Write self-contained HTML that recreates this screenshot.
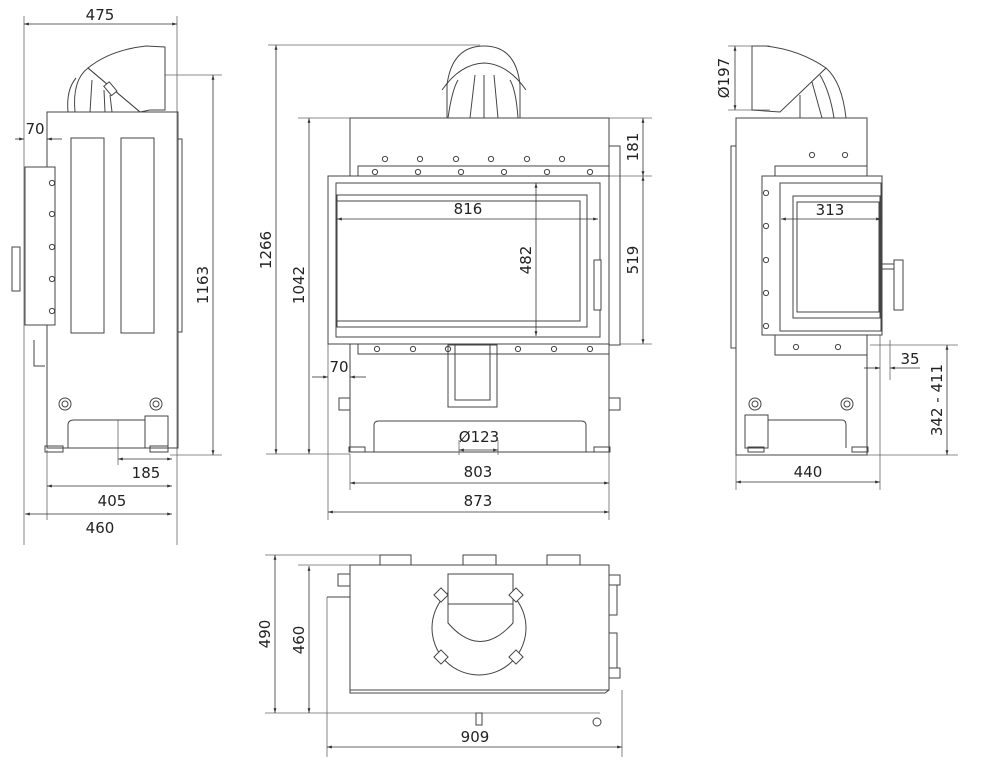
<!DOCTYPE html>
<html><head><meta charset="utf-8"><style>
html,body{margin:0;padding:0;background:#fff;}
svg{display:block;}
text{font-family:"DejaVu Sans","Liberation Sans",sans-serif;font-size:15px;fill:#222;}
.l{stroke:#444;stroke-width:1;fill:none;}
.t{stroke:#666;stroke-width:.8;fill:none;}
.d{stroke:#333;stroke-width:.8;fill:none;}
.b{stroke:#444;stroke-width:1;fill:#fff;}
</style></head><body>
<svg width="984" height="763" viewBox="0 0 984 763" xmlns="http://www.w3.org/2000/svg">
<defs>
<marker id="a" viewBox="0 0 10 10" refX="10" refY="5" markerWidth="9" markerHeight="6" orient="auto-start-reverse"><path d="M0,2 L10,5 L0,8 z" fill="#333"/></marker>
<g id="bolt"><circle r="2.6" class="l"/></g>
</defs>

<!-- ================= LEFT VIEW ================= -->
<g>
<line class="t" x1="24" y1="16" x2="24" y2="545"/>
<line class="t" x1="177" y1="16" x2="177" y2="545"/>
<line class="t" x1="165" y1="75" x2="222" y2="75"/>
<line class="t" x1="170" y1="455" x2="222" y2="455"/>
<line class="t" x1="47" y1="450" x2="47" y2="520"/>
<line class="t" x1="118" y1="420" x2="118" y2="465"/>
<path class="l" d="M88,68 Q110,50 146,46 L165,47 L165,110 L150,110 L140,112 Z"/>
<line class="l" x1="88" y1="68" x2="140" y2="112"/>
<path class="l" d="M75,112 Q72,80 88,68 M68,112 Q66,90 76,78 M90,112 L92,80 M105,112 L104,90 M112,112 L110,95"/>
<rect class="b" x="107" y="83" width="7" height="12" transform="rotate(-40 110 89)"/>
<rect class="l" x="47" y="112" width="131" height="336"/>
<rect class="l" x="178" y="139" width="4" height="193"/>
<rect class="l" x="71" y="138" width="33" height="195"/>
<rect class="l" x="121" y="138" width="33" height="195"/>
<rect class="b" x="25" y="167" width="30" height="158"/>
<g transform="translate(52,0)"><use href="#bolt" y="183"/><use href="#bolt" y="214"/><use href="#bolt" y="247"/><use href="#bolt" y="279"/><use href="#bolt" y="311"/></g>
<rect class="b" x="12" y="247" width="8" height="44"/>
<path class="l" d="M34,340 L34,366 L45,366"/>
<circle cx="65" cy="404" r="6" class="l"/><circle cx="65" cy="404" r="3" class="l"/>
<circle cx="156" cy="404" r="6" class="l"/><circle cx="156" cy="404" r="3" class="l"/>
<path class="l" d="M68,448 L68,425 Q68,420 74,420 L145,420"/>
<rect class="l" x="145" y="416" width="23" height="32"/>
<rect class="l" x="45" y="446" width="18" height="6"/>
<rect class="l" x="150" y="446" width="18" height="6"/>
<line class="d" x1="24" y1="24" x2="177" y2="24" marker-start="url(#a)" marker-end="url(#a)"/>
<text x="100" y="20" text-anchor="middle">475</text>
<line class="d" x1="213" y1="75" x2="213" y2="455" marker-start="url(#a)" marker-end="url(#a)"/>
<text transform="translate(208,285) rotate(-90)" text-anchor="middle">1163</text>
<line class="d" x1="15" y1="139" x2="24" y2="139" marker-end="url(#a)"/>
<line class="d" x1="47" y1="139" x2="62" y2="139" marker-start="url(#a)"/>
<text x="35" y="134" text-anchor="middle">70</text>
<line class="d" x1="118" y1="459" x2="172" y2="459" marker-start="url(#a)" marker-end="url(#a)"/>
<text x="146" y="478" text-anchor="middle">185</text>
<line class="d" x1="47" y1="486" x2="172" y2="486" marker-start="url(#a)" marker-end="url(#a)"/>
<text x="112" y="506" text-anchor="middle">405</text>
<line class="d" x1="25" y1="514" x2="172" y2="514" marker-start="url(#a)" marker-end="url(#a)"/>
<text x="100" y="533" text-anchor="middle">460</text>
</g>

<!-- ================= FRONT VIEW ================= -->
<g>
<line class="t" x1="268" y1="45" x2="480" y2="45"/>
<line class="t" x1="298" y1="118" x2="350" y2="118"/>
<line class="t" x1="266" y1="454" x2="350" y2="454"/>
<line class="t" x1="609" y1="118" x2="652" y2="118"/>
<line class="t" x1="609" y1="176" x2="652" y2="176"/>
<line class="t" x1="620" y1="344" x2="652" y2="344"/>
<line class="t" x1="328" y1="344" x2="328" y2="520"/>
<line class="t" x1="609" y1="344" x2="609" y2="520"/>
<line class="t" x1="350" y1="454" x2="350" y2="490"/>
<path class="l" d="M447,118 L447,85 Q452,46 484,46 Q516,46 520,85 L520,118"/>
<path class="l" d="M442,90 Q460,64 484,63 Q508,64 526,90"/>
<path class="l" d="M448,118 Q452,90 458,80 M470,118 L475,75 M484,118 L484,75 M498,118 L494,75 M518,118 Q516,90 510,80"/>
<rect class="l" x="350" y="118" width="259" height="334"/>
<rect class="l" x="609" y="146" width="11" height="199"/>
<g><use href="#bolt" x="385" y="159"/><use href="#bolt" x="420" y="159"/><use href="#bolt" x="456" y="159"/><use href="#bolt" x="491" y="159"/><use href="#bolt" x="527" y="159"/><use href="#bolt" x="562" y="159"/></g>
<rect class="l" x="358" y="166" width="251" height="10"/>
<g><use href="#bolt" x="375" y="172"/><use href="#bolt" x="418" y="172"/><use href="#bolt" x="461" y="172"/><use href="#bolt" x="504" y="172"/><use href="#bolt" x="547" y="172"/><use href="#bolt" x="590" y="172"/></g>
<rect class="b" x="328" y="176" width="281" height="168"/>
<rect class="l" x="336" y="183" width="264" height="154"/>
<rect class="l" x="337" y="195" width="250" height="132"/>
<rect class="l" x="337" y="201" width="243" height="120"/>
<rect class="b" x="594" y="260" width="7" height="50"/>
<rect class="l" x="358" y="344" width="251" height="10"/>
<g><use href="#bolt" x="377" y="349"/><use href="#bolt" x="413" y="349"/><use href="#bolt" x="448" y="349"/><use href="#bolt" x="518" y="349"/><use href="#bolt" x="554" y="349"/><use href="#bolt" x="590" y="349"/></g>
<rect class="l" x="448" y="345" width="49" height="62"/>
<rect class="l" x="455" y="345" width="35" height="55"/>
<rect class="l" x="339" y="398" width="11" height="12"/>
<rect class="l" x="609" y="398" width="11" height="12"/>
<path class="l" d="M374,452 L374,425 Q374,421 379,421 L581,421 Q586,421 586,425 L586,452"/>
<rect class="l" x="349" y="447" width="16" height="5"/>
<rect class="l" x="594" y="447" width="16" height="5"/>
<line class="d" x1="276" y1="45" x2="276" y2="454" marker-start="url(#a)" marker-end="url(#a)"/>
<text transform="translate(271,250) rotate(-90)" text-anchor="middle">1266</text>
<line class="d" x1="309" y1="118" x2="309" y2="454" marker-start="url(#a)" marker-end="url(#a)"/>
<text transform="translate(304,285) rotate(-90)" text-anchor="middle">1042</text>
<line class="d" x1="643" y1="118" x2="643" y2="176" marker-start="url(#a)" marker-end="url(#a)"/>
<text transform="translate(638,147) rotate(-90)" text-anchor="middle">181</text>
<line class="d" x1="643" y1="176" x2="643" y2="344" marker-start="url(#a)" marker-end="url(#a)"/>
<text transform="translate(638,260) rotate(-90)" text-anchor="middle">519</text>
<line class="d" x1="337" y1="219" x2="598" y2="219" marker-start="url(#a)" marker-end="url(#a)"/>
<text x="468" y="214" text-anchor="middle">816</text>
<line class="d" x1="536" y1="183" x2="536" y2="336" marker-start="url(#a)" marker-end="url(#a)"/>
<text transform="translate(531,260) rotate(-90)" text-anchor="middle">482</text>
<line class="d" x1="312" y1="377" x2="328" y2="377" marker-end="url(#a)"/>
<line class="d" x1="350" y1="377" x2="366" y2="377" marker-start="url(#a)"/>
<text x="339" y="372" text-anchor="middle">70</text>
<line class="t" x1="459" y1="440" x2="459" y2="455"/><line class="t" x1="498" y1="440" x2="498" y2="455"/>
<line class="d" x1="459" y1="450" x2="498" y2="450" marker-start="url(#a)" marker-end="url(#a)"/>
<text x="479" y="442" text-anchor="middle">Ø123</text>
<line class="d" x1="350" y1="483" x2="609" y2="483" marker-start="url(#a)" marker-end="url(#a)"/>
<text x="478" y="477" text-anchor="middle">803</text>
<line class="d" x1="328" y1="512" x2="609" y2="512" marker-start="url(#a)" marker-end="url(#a)"/>
<text x="478" y="506" text-anchor="middle">873</text>
</g>

<!-- ================= RIGHT VIEW ================= -->
<g>
<line class="t" x1="728" y1="46" x2="770" y2="46"/>
<line class="t" x1="728" y1="110" x2="770" y2="110"/>
<line class="t" x1="870" y1="345" x2="958" y2="345"/>
<line class="t" x1="860" y1="455" x2="958" y2="455"/>
<line class="t" x1="736" y1="455" x2="736" y2="490"/>
<line class="t" x1="880" y1="330" x2="880" y2="490"/>
<line class="t" x1="890" y1="340" x2="890" y2="380"/>
<path class="l" d="M752,46 L766,46 Q800,50 826,68 L780,112 L752,110 Z"/>
<line class="l" x1="752" y1="46" x2="752" y2="110"/>
<path class="l" d="M826,68 Q842,82 846,118 M820,75 Q830,92 834,118 M812,82 L822,118 M800,95 L800,118"/>
<rect class="l" x="736" y="118" width="131" height="337"/>
<rect class="l" x="731" y="146" width="5" height="202"/>
<rect class="l" x="775" y="166" width="92" height="189"/>
<rect class="b" x="762" y="176" width="120" height="159"/>
<g transform="translate(766,0)"><use href="#bolt" y="193"/><use href="#bolt" y="226"/><use href="#bolt" y="260"/><use href="#bolt" y="293"/><use href="#bolt" y="326"/></g>
<rect class="l" x="780" y="183" width="101" height="148"/>
<rect class="l" x="793" y="196" width="87" height="122"/>
<rect class="l" x="797" y="202" width="82" height="110"/>
<rect class="l" x="882" y="264" width="14" height="5"/>
<rect class="b" x="894" y="260" width="9" height="50"/>
<g><use href="#bolt" x="812" y="155"/><use href="#bolt" x="845" y="155"/><use href="#bolt" x="796" y="347"/><use href="#bolt" x="838" y="347"/></g>
<circle cx="755" cy="404" r="6" class="l"/><circle cx="755" cy="404" r="3" class="l"/>
<circle cx="847" cy="404" r="6" class="l"/><circle cx="847" cy="404" r="3" class="l"/>
<rect class="l" x="745" y="415" width="23" height="33"/>
<path class="l" d="M768,420 L842,420 Q846,420 846,425 L846,448"/>
<rect class="l" x="748" y="447" width="16" height="5"/>
<rect class="l" x="852" y="447" width="16" height="5"/>
<line class="d" x1="735" y1="46" x2="735" y2="110" marker-start="url(#a)" marker-end="url(#a)"/>
<text transform="translate(729,78) rotate(-90)" text-anchor="middle">Ø197</text>
<line class="d" x1="781" y1="219" x2="881" y2="219" marker-start="url(#a)" marker-end="url(#a)"/>
<text x="830" y="215" text-anchor="middle">313</text>
<line class="d" x1="864" y1="368" x2="880" y2="368" marker-end="url(#a)"/>
<line class="d" x1="890" y1="368" x2="920" y2="368" marker-start="url(#a)"/>
<text x="910" y="364" text-anchor="middle">35</text>
<line class="d" x1="947" y1="345" x2="947" y2="455" marker-start="url(#a)" marker-end="url(#a)"/>
<text transform="translate(942,400) rotate(-90)" text-anchor="middle">342 - 411</text>
<line class="d" x1="736" y1="482" x2="880" y2="482" marker-start="url(#a)" marker-end="url(#a)"/>
<text x="808" y="477" text-anchor="middle">440</text>
</g>

<!-- ================= TOP VIEW ================= -->
<g>
<line class="t" x1="265" y1="555" x2="400" y2="555"/>
<line class="t" x1="298" y1="565" x2="350" y2="565"/>
<line class="t" x1="265" y1="713" x2="600" y2="713"/>
<line class="t" x1="327" y1="597" x2="327" y2="757"/>
<line class="t" x1="622" y1="690" x2="622" y2="757"/>
<rect class="l" x="380" y="555" width="31" height="10"/>
<rect class="l" x="463" y="555" width="33" height="10"/>
<rect class="l" x="547" y="555" width="33" height="10"/>
<rect class="l" x="338" y="574" width="12" height="12"/>
<path class="l" d="M327,597 L350,597"/>
<rect class="l" x="350" y="565" width="259" height="125"/>
<rect class="l" x="609" y="575" width="11" height="10"/>
<rect class="l" x="609" y="585" width="8" height="30"/>
<rect class="l" x="609" y="633" width="8" height="35"/>
<rect class="l" x="609" y="668" width="11" height="10"/>
<path class="l" d="M350,690 L350,693 L605,693 L609,690"/>
<circle cx="479" cy="628" r="47" class="l"/>
<rect class="b" x="448" y="574" width="65" height="30"/>
<path class="l" d="M448,574 L448,623 Q480,660 513,623 L513,574"/>
<g fill="#fff" stroke="#444">
<rect x="436" y="590" width="10" height="10" transform="rotate(45 441 595)"/>
<rect x="511" y="590" width="10" height="10" transform="rotate(45 516 595)"/>
<rect x="436" y="652" width="10" height="10" transform="rotate(45 441 657)"/>
<rect x="511" y="652" width="10" height="10" transform="rotate(45 516 657)"/>
</g>
<rect class="l" x="476" y="713" width="6" height="12"/>
<circle cx="597" cy="722" r="4" class="l"/>
<line class="d" x1="275" y1="555" x2="275" y2="713" marker-start="url(#a)" marker-end="url(#a)"/>
<text transform="translate(270,634) rotate(-90)" text-anchor="middle">490</text>
<line class="d" x1="309" y1="566" x2="309" y2="713" marker-start="url(#a)" marker-end="url(#a)"/>
<text transform="translate(304,640) rotate(-90)" text-anchor="middle">460</text>
<line class="d" x1="327" y1="747" x2="622" y2="747" marker-start="url(#a)" marker-end="url(#a)"/>
<text x="475" y="742" text-anchor="middle">909</text>
</g>
</svg>
</body></html>
